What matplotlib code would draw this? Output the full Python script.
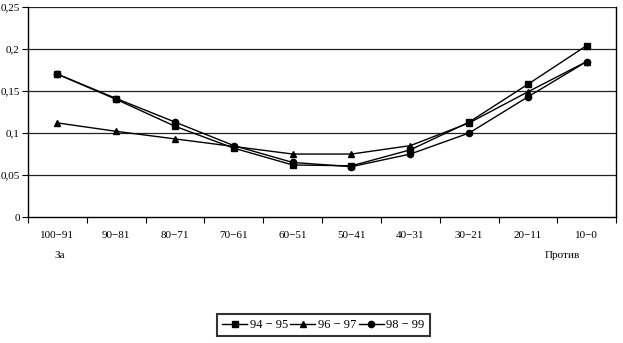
import numpy as np
import matplotlib.pyplot as plt
import matplotlib

matplotlib.rcParams['font.family'] = ['Liberation Serif', 'DejaVu Serif']

categories = ['100\u221291', '90\u221281', '80\u221271', '70\u221261', '60\u221251',
              '50\u221241', '40\u221231', '30\u221221', '20\u221211', '10\u22120']
s94_95 = [0.170, 0.140, 0.108, 0.082, 0.062, 0.061, 0.080, 0.113, 0.158, 0.204]
s96_97 = [0.112, 0.102, 0.093, 0.084, 0.075, 0.075, 0.085, 0.112, 0.149, 0.185]
s98_99 = [0.170, 0.141, 0.113, 0.085, 0.065, 0.060, 0.075, 0.100, 0.143, 0.185]
yticks = [0, 0.05, 0.1, 0.15, 0.2, 0.25]
ytick_labels = ['0', '0,05', '0,1', '0,15', '0,2', '0,25']

fig = plt.figure(figsize=(6.23, 3.43), dpi=100)
ax = fig.add_axes([0.045, 0.367, 0.944, 0.613])

x = np.arange(len(categories))
ax.plot(x, s94_95, color='black', lw=1, marker='s', ms=4.5, label='94 \u2212 95')
ax.plot(x, s96_97, color='black', lw=1, marker='^', ms=4.5, label='96 \u2212 97')
ax.plot(x, s98_99, color='black', lw=1, marker='o', ms=4.5, label='98 \u2212 99')

ax.set_xlim(-0.5, len(categories) - 0.5)
ax.set_ylim(0, 0.25)
ax.set_yticks(yticks)
ax.set_yticklabels(ytick_labels, fontsize=8)
for v in yticks[1:]:
    ax.axhline(v, color='#222222', lw=0.9, zorder=0)

# ticks sit between the categories, labels under the centres
ax.set_xticks(np.arange(-0.5, len(categories)), minor=False)
ax.set_xticklabels([])
ax.set_xticks(x, minor=True)
ax.set_xticklabels(categories, minor=True, fontsize=8)
ax.tick_params(axis='x', which='minor', length=0, pad=10)
ax.tick_params(axis='x', which='major', length=4, direction='out')
ax.tick_params(axis='y', length=4, direction='out', pad=2)

ax.spines['top'].set_visible(False)
for s in ['left', 'right', 'bottom']:
    ax.spines[s].set_color('black')
    ax.spines[s].set_linewidth(1)

fig.text(60 / 623, 1 - 255 / 343, 'За', fontsize=8, ha='center', va='center')
fig.text(562 / 623, 1 - 255 / 343, 'Против', fontsize=8, ha='center', va='center')

leg = fig.legend(loc='center', bbox_to_anchor=(0.519, 0.052), ncol=3, fontsize=9,
                 frameon=True, fancybox=False, edgecolor='black', handlelength=2,
                 handletextpad=0.2, columnspacing=0.2, borderpad=0.4)
leg.get_frame().set_linewidth(1.5)

fig.savefig('out.png', dpi=100)
